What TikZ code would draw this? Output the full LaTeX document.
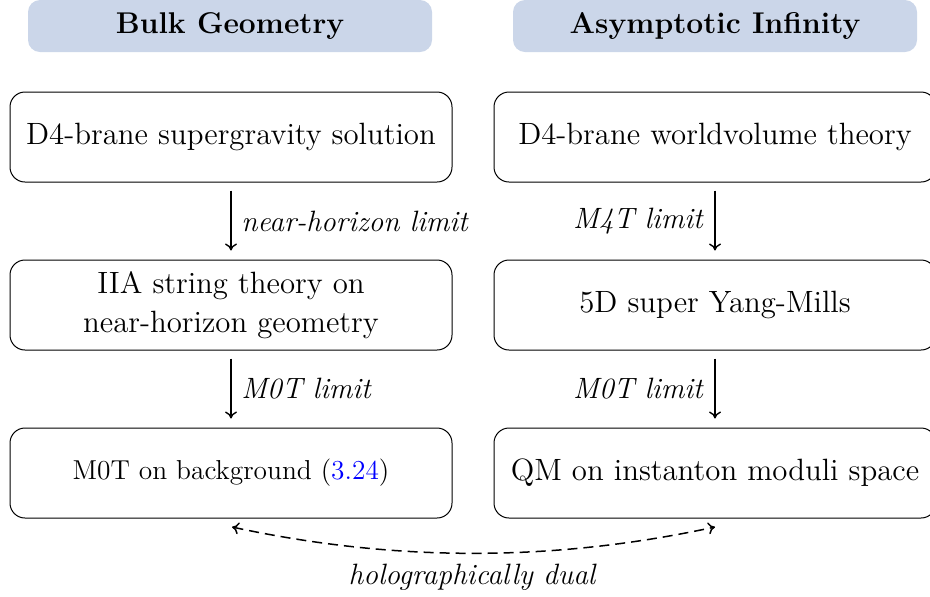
\documentclass[tikz,border=0pt]{standalone}
\usepackage{fontspec}
\setmainfont{lmroman12-regular.otf}[BoldFont=lmroman12-bold.otf,ItalicFont=lmroman12-italic.otf]
\usetikzlibrary{arrows.meta}
\definecolor{hdrfill}{RGB}{203,214,233}
\begin{document}
\begin{tikzpicture}[x=0.5pt,y=-0.5pt,
  hdr/.style={fill=hdrfill,rounded corners=6pt,minimum width=202pt,minimum height=26pt,font=\fontsize{15}{18}\selectfont\bfseries,inner sep=0pt},
  box/.style={draw,line width=0.5pt,rounded corners=7.5pt,minimum width=221pt,minimum height=45pt,font=\fontsize{15.4}{19.5}\selectfont,align=center,inner sep=0pt},
  arr/.style={-{To[length=3.5pt,width=6pt]},line width=0.7pt,shorten <=4pt,shorten >=4.5pt},
  lab/.style={font=\fontsize{14.7}{17}\selectfont\itshape}]
\useasboundingbox (0,0) rectangle (930,596);
\node[hdr] (h1) at (230,26) {Bulk Geometry};
\node[hdr] (h2) at (715,26) {Asymptotic Infinity};
\node[box] (a1) at (231,137) {D4-brane supergravity solution};
\node[box] (a2) at (231,305) {IIA string theory on\\near-horizon geometry};
\node[box,font=\fontsize{13.7}{16}\selectfont] (a3) at (231,473) {M0T on background (\textcolor{blue}{3.24})};
\node[box] (b1) at (715,137) {D4-brane worldvolume theory};
\node[box] (b2) at (715,305) {5D super Yang-Mills};
\node[box] (b3) at (715,473) {QM on instanton moduli space};
\draw[arr] (a1.south) -- node[right,lab,xshift=1.5pt]{near-horizon limit} (a2.north);
\draw[arr] (a2.south) -- node[right,lab,xshift=1.5pt]{M0T limit} (a3.north);
\draw[arr] (b1.south) -- node[left,lab,xshift=-2.5pt]{M4T limit} (b2.north);
\draw[arr] (b2.south) -- node[left,lab,xshift=-2.5pt]{M0T limit} (b3.north);
\coordinate (d1) at (232,527);
\coordinate (d2) at (715,527);
\draw[{To[length=3.5pt,width=6pt]}-{To[length=3.5pt,width=6pt]},line width=0.75pt,dash pattern=on 5pt off 3pt]
  (d1) .. controls (395,562) and (552,562) .. (d2);
\node[lab] (hd) at (472,577) {holographically dual};
\end{tikzpicture}
\end{document}
